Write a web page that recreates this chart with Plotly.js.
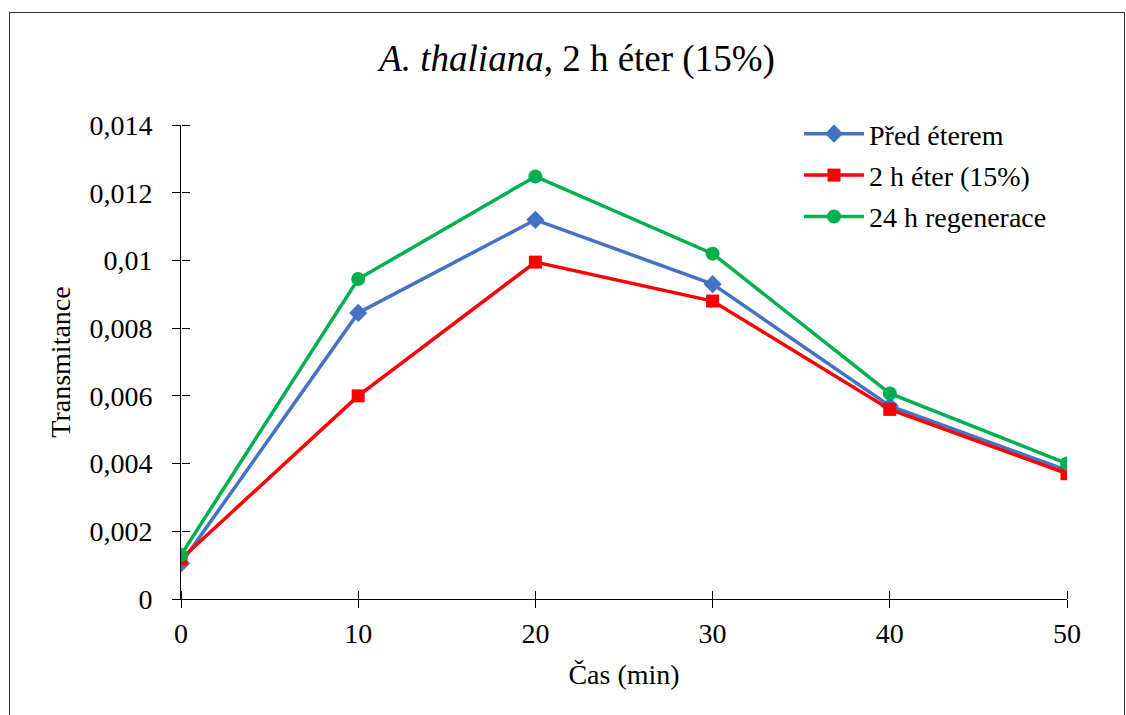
<!DOCTYPE html>
<html>
<head>
<meta charset="utf-8">
<script src="https://cdn.plot.ly/plotly-3.0.1.min.js"></script>
<style>
html,body{margin:0;padding:0;background:#fff;}
#wrap{position:relative;width:1126px;height:715px;}
#chart{position:absolute;left:0;top:0;width:1126px;height:715px;}
#frame{position:absolute;left:9px;top:12px;width:1114px;height:720px;border:1px solid #333;pointer-events:none;}
</style>
</head>
<body>
<div id="wrap"><div id="chart"></div><div id="frame"></div></div>
<script>
const times = [0, 10, 20, 30, 40, 50];
const predEterem = [0.00105, 0.00845, 0.0112, 0.0093, 0.0057, 0.0038];
const eter2h = [0.00118, 0.0060, 0.00995, 0.0088, 0.0056, 0.0037];
const regenerace24h = [0.0013, 0.00945, 0.01248, 0.0102, 0.00607, 0.00400];
const seriesNames = ['Před éterem', '2 h éter (15%)', '24 h regenerace'];
const yTickVals = [0, 0.002, 0.004, 0.006, 0.008, 0.01, 0.012, 0.014];
const yTickText = ['0', '0,002', '0,004', '0,006', '0,008', '0,01', '0,012', '0,014'];
const xTickVals = [0, 10, 20, 30, 40, 50];

const FONT = '"Liberation Serif", "Times New Roman", serif';
// invisible trace first, so the real series are drawn above it
const traces = [
  {x: times, y: predEterem, xaxis: 'x2', yaxis: 'y2', mode: 'markers',
   marker: {opacity: 0, size: 1}, showlegend: false, hoverinfo: 'skip'},
  {x: times, y: predEterem, name: seriesNames[0], mode: 'lines+markers', legendgroup: 'a',
   line: {color: '#4472C4', width: 3.5}, marker: {symbol: 'diamond', size: 14, color: '#4472C4'}},
  {x: times, y: eter2h, name: seriesNames[1], mode: 'lines+markers', legendgroup: 'b',
   line: {color: '#FF0000', width: 3.5}, marker: {symbol: 'square', size: 13, color: '#FF0000'}},
  {x: times, y: regenerace24h, name: seriesNames[2], mode: 'lines+markers', legendgroup: 'c',
   line: {color: '#00B050', width: 3.5}, marker: {symbol: 'circle', size: 14, color: '#00B050'}}
];

const layout = {
  width: 1126, height: 715,
  margin: {l: 181, r: 59, t: 125, b: 116},
  paper_bgcolor: '#fff', plot_bgcolor: 'rgba(0,0,0,0)',
  font: {family: FONT, size: 28, color: '#000'},
  title: {text: '<i>A. thaliana</i>, 2 h éter (15%)', font: {family: FONT, size: 37, color: '#000'},
          x: 577/1126, xref: 'container', xanchor: 'center', y: 1 - 58/715, yref: 'container', yanchor: 'middle'},
  xaxis: {range: [0, 50], tickvals: xTickVals, ticks: 'outside', ticklen: 8, tickcolor: '#000', tickwidth: 1,
          showline: true, linecolor: '#000', linewidth: 1, showgrid: false, zeroline: false,
          tickfont: {family: FONT, size: 28}, ticklabelstandoff: 1,
          title: {text: 'Čas (min)', font: {family: FONT, size: 28}, standoff: 16}},
  yaxis: {range: [0, 0.014], tickvals: yTickVals, ticks: 'outside', ticklen: 8, ticktext: yTickText,
          tickcolor: '#000', tickwidth: 1, showline: true, linecolor: '#000', linewidth: 1,
          showgrid: false, zeroline: false, tickfont: {family: FONT, size: 28}, ticklabelstandoff: 14,
          title: {text: 'Transmitance', font: {family: FONT, size: 28}, standoff: 10}},
  xaxis2: {overlaying: 'x', range: [0, 50], tickvals: xTickVals, ticks: 'outside', ticklen: 8, tickcolor: '#000',
           tickwidth: 1, showticklabels: false, showgrid: false, zeroline: false, showline: false,
           side: 'top', anchor: 'free', position: 0},
  yaxis2: {overlaying: 'y', range: [0, 0.014], tickvals: yTickVals, ticks: 'outside', ticklen: 8, tickcolor: '#000',
           tickwidth: 1, showticklabels: false, showgrid: false, zeroline: false, showline: false,
           side: 'right', anchor: 'free', position: 0},
  legend: {x: (799 - 181) / 886, y: (599 - 109) / 474, xanchor: 'left', yanchor: 'top',
           font: {family: FONT, size: 28}, bgcolor: 'rgba(0,0,0,0)', tracegroupgap: 2, itemwidth: 60,
           traceorder: 'grouped'},
  showlegend: true
};
Plotly.newPlot('chart', traces, layout, {displayModeBar: false, staticPlot: true});
</script>
</body>
</html>
